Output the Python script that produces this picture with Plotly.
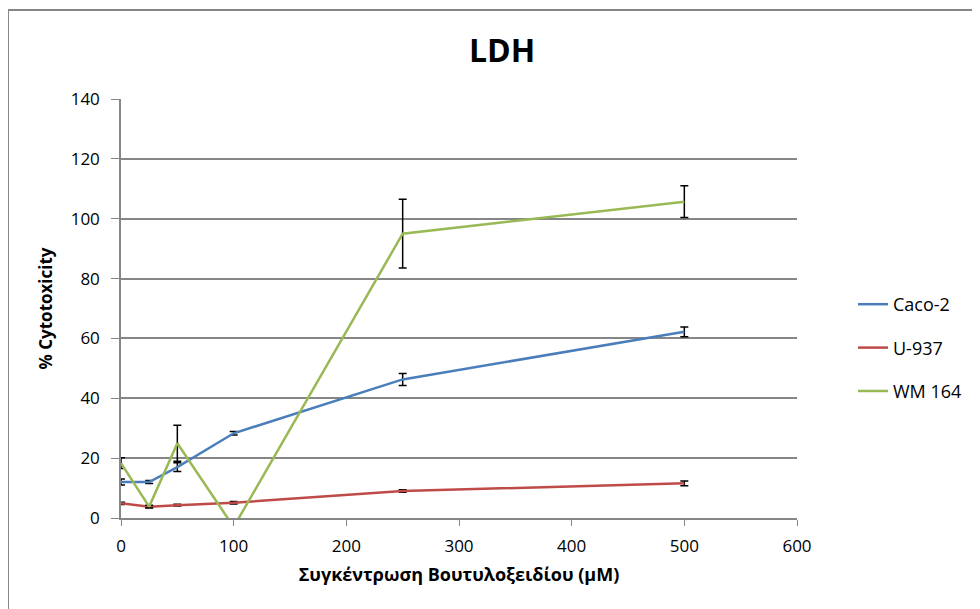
import plotly.graph_objects as go

concentration = [0, 25, 50, 100, 250, 500]

caco2 = [12, 12, 17, 28.3, 46.3, 62.2]
caco2_err = [1, 0.5, 1.5, 0.6, 2, 1.6]

u937 = [4.9, 3.8, 4.3, 5.1, 9, 11.6]
u937_err = [0.4, 0.3, 0.3, 0.4, 0.4, 0.8]

wm164 = [18.3, 3.8, 25, -3, 95, 105.7]
wm164_err = [1.8, 0.5, 6, 0.8, 11.5, 5.3]

series = [
    ("Caco-2", caco2, caco2_err, "#4A7EBB"),
    ("U-937", u937, u937_err, "#BE4B48"),
    ("WM 164", wm164, wm164_err, "#98B954"),
]

fig = go.Figure()
for i, (name, vals, errs, color) in enumerate(series):
    fig.add_trace(go.Scatter(
        x=concentration, y=vals, name=name, mode="lines",
        line=dict(color=color, width=2.5),
        legendgroup=str(i),
        error_y=dict(type="data", array=errs, visible=True,
                     color="black", thickness=1.5, width=4),
    ))

font_family = "Open Sans, Liberation Sans, sans-serif"

# page is offset by the default 8px body margin
OFF = 8
PL, PR, PT, PB = 121, 797, 99, 518  # plot area in page pixels
PW, PH = PR - PL, PB - PT

fig.update_layout(
    width=980, height=609,
    margin=dict(l=PL - OFF, r=980 - PR + OFF, t=PT - OFF, b=609 - PB + OFF),
    paper_bgcolor="white", plot_bgcolor="white",
    font=dict(family=font_family, size=17, color="black"),
    title=dict(text="<b>LDH</b>", x=(502 - PL) / PW, xref="paper", xanchor="center",
               y=1 - (51 - OFF) / 609, yanchor="middle",
               font=dict(size=32, family=font_family, color="black")),
    showlegend=True,
    legend=dict(x=(853 - PL) / PW, y=(PB - 348) / PH, xanchor="left", yanchor="middle",
                traceorder="grouped", tracegroupgap=17,
                font=dict(size=18, family=font_family), bgcolor="rgba(0,0,0,0)"),
    xaxis=dict(range=[0, 600], dtick=100, tick0=0, showgrid=False, zeroline=False,
               showline=True, linecolor="#868686", linewidth=1.5,
               ticks="outside", ticklen=6, tickcolor="#868686", ticklabelstandoff=6,
               tickfont=dict(size=17),
               title=dict(text="<b>Συγκέντρωση Βουτυλοξειδίου (μM)</b>",
                          font=dict(size=18, family=font_family), standoff=12)),
    yaxis=dict(range=[0, 140], dtick=20, tick0=0, showgrid=True, gridcolor="#868686",
               gridwidth=1.5, zeroline=False, showline=True, linecolor="#868686", linewidth=1.5,
               ticks="outside", ticklen=8, tickcolor="#868686", ticklabelstandoff=8,
               tickfont=dict(size=17),
               title=dict(text="<b>% Cytotoxicity</b>",
                          font=dict(size=17, family=font_family), standoff=14)),
    shapes=[dict(type="rect", xref="paper", yref="paper",
                 x0=(8 - PL) / PW, x1=(1010 - PL) / PW,
                 y0=(PB - 650) / PH, y1=(PB - 10) / PH,
                 line=dict(color="#868686", width=2), fillcolor="rgba(0,0,0,0)", layer="below")],
)

fig.write_html("out.html")
